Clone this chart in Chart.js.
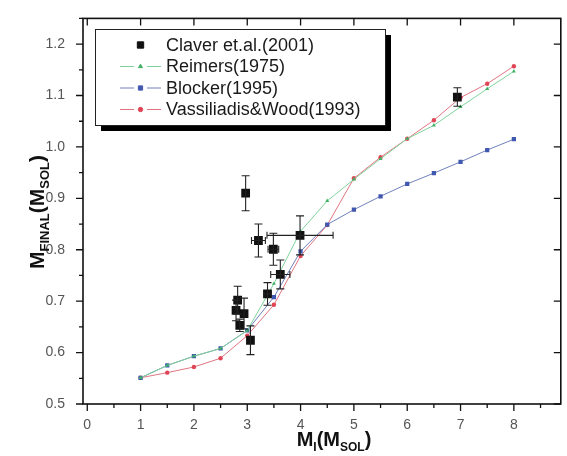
<!DOCTYPE html>
<html>
<head>
<meta charset="utf-8">
<script src="https://cdn.jsdelivr.net/npm/chart.js@4"></script>
<style>
  html, body { margin: 0; padding: 0; background: #fff; }
</style>
</head>
<body>
<canvas id="massChart" width="567" height="456"></canvas>
<script>
// model grids (initial mass, M_sol)
const modelMass = [1, 1.5, 2, 2.5, 3, 3.5, 4, 4.5, 5, 5.5, 6, 6.5, 7, 7.5, 8];
const reimers = [0.551, 0.575, 0.593, 0.608, 0.643, 0.734, 0.836, 0.895, 0.937, 0.977, 1.016, 1.042, 1.078, 1.113, 1.147];
const blocker = [0.551, 0.575, 0.593, 0.608, 0.643, 0.708, 0.797, 0.849, 0.878, 0.904, 0.928, 0.949, 0.971, 0.994, 1.015];
const vassWood = [0.551, 0.561, 0.572, 0.589, 0.633, 0.693, 0.788, 0.848, 0.939, 0.980, 1.016, 1.052, 1.096, 1.123, 1.157];

// Claver et al. (2001) observations
const claverMi = [2.82, 2.79, 2.94, 2.86, 3.06, 2.97, 3.21, 3.49, 3.62, 3.38, 3.99, 6.94];
const claverMf = [0.702, 0.682, 0.676, 0.653, 0.624, 0.910, 0.818, 0.801, 0.752, 0.714, 0.828, 1.097];
const claverMiErr = [0, 0, 0, 0, 0, 0, 0.13, 0.1, 0.18, 0.07, 0.62, 0];
const claverMfErr = [0.027, 0.02, 0.03, 0.012, 0.028, 0.034, 0.032, 0.031, 0.028, 0.022, 0.038, 0.018];

const xTickVals = [0, 1, 2, 3, 4, 5, 6, 7, 8];
const yTickVals = [0.5, 0.6, 0.7, 0.8, 0.9, 1.0, 1.1, 1.2];
const seriesNames = ['Claver et.al.(2001)', 'Reimers(1975)', 'Blocker(1995)', 'Vassiliadis&Wood(1993)'];

const FONT = '"Liberation Sans", Arial, sans-serif';
const GREEN = '#7fd39a', BLUE = '#7080bb', RED = '#e07581';

function pts(xs, ys) {
    return xs.map((x, i) => ({ x: x, y: ys[i] }));
}

// frame + ticks (outward on bottom/left, inward on top/right)
const framePlugin = {
    id: 'frame',
    afterDatasetsDraw(chart) {
        const c = chart.ctx, a = chart.chartArea;
        const xs = chart.scales.x, ys = chart.scales.y;
        c.save();
        c.strokeStyle = '#111';
        c.lineWidth = 1.6;
        c.strokeRect(a.left, a.top, a.right - a.left, a.bottom - a.top);
        c.lineWidth = 1.3;
        c.beginPath();
        for (let v = 0; v <= 9; v += 0.5) {
            const px = xs.getPixelForValue(v);
            if (px < a.left || px > a.right) continue;
            const major = v % 1 === 0;
            c.moveTo(px, a.bottom); c.lineTo(px, a.bottom + (major ? 7 : 4));
            if (major) { c.moveTo(px, a.top); c.lineTo(px, a.top + 7); }
        }
        for (let k = 0; k <= 15; k++) {
            const v = 0.5 + k * 0.05;
            const py = ys.getPixelForValue(v);
            if (py < a.top || py > a.bottom) continue;
            const major = k % 2 === 0;
            c.moveTo(a.left, py); c.lineTo(a.left - (major ? 7 : 4), py);
            if (major) { c.moveTo(a.right, py); c.lineTo(a.right - 7, py); }
        }
        c.stroke();

        // error bars for the observed points
        c.strokeStyle = '#222';
        c.lineWidth = 1.1;
        c.beginPath();
        claverMi.forEach((mi, i) => {
            const px = xs.getPixelForValue(mi), py = ys.getPixelForValue(claverMf[i]);
            if (claverMfErr[i] > 0) {
                const t = ys.getPixelForValue(claverMf[i] + claverMfErr[i]);
                const b = ys.getPixelForValue(claverMf[i] - claverMfErr[i]);
                c.moveTo(px, t); c.lineTo(px, b);
                c.moveTo(px - 4, t); c.lineTo(px + 4, t);
                c.moveTo(px - 4, b); c.lineTo(px + 4, b);
            }
            if (claverMiErr[i] > 0) {
                const l = xs.getPixelForValue(mi - claverMiErr[i]);
                const r = xs.getPixelForValue(mi + claverMiErr[i]);
                c.moveTo(l, py); c.lineTo(r, py);
                c.moveTo(l, py - 3.5); c.lineTo(l, py + 3.5);
                c.moveTo(r, py - 3.5); c.lineTo(r, py + 3.5);
            }
        });
        c.stroke();
        c.restore();
    },
    afterDraw(chart) {
        const c = chart.ctx;
        c.save();
        // legend box with drop shadow
        const bx = 95, by = 29, bw = 290, bh = 96;
        c.fillStyle = '#000';
        c.fillRect(bx + 6, by + 6, bw, bh);
        c.fillStyle = '#fff';
        c.fillRect(bx, by, bw, bh);
        c.strokeStyle = '#222';
        c.lineWidth = 1;
        c.strokeRect(bx + 0.5, by + 0.5, bw, bh);

        const rows = [45, 66.5, 88, 109.5];
        const lineCols = [null, GREEN, BLUE, RED];
        rows.forEach((ry, i) => {
            if (lineCols[i]) {
                c.strokeStyle = lineCols[i];
                c.lineWidth = 1;
                c.beginPath();
                c.moveTo(120, ry); c.lineTo(134, ry);
                c.moveTo(147, ry); c.lineTo(161, ry);
                c.stroke();
            }
            const ds = chart.data.datasets[i];
            c.fillStyle = ds.backgroundColor;
            c.strokeStyle = ds.backgroundColor;
            Chart.helpers.drawPoint(c, {
                pointStyle: ds.pointStyle, radius: i === 0 ? 4.5 : ds.pointRadius, rotation: 0, borderWidth: 1
            }, 140.5, ry);
            c.fillStyle = '#1a1a1a';
            c.font = '18px ' + FONT;
            c.textBaseline = 'middle';
            c.textAlign = 'left';
            c.fillText(seriesNames[i], 166, ry + 1);
        });

        // axis titles with subscripts
        function title(parts) {
            let w = 0;
            parts.forEach(p => { c.font = 'bold ' + p[1] + 'px ' + FONT; p.w = c.measureText(p[0]).width; w += p.w; });
            return w;
        }
        const xt = [['M', 20, 0], ['I', 12, 5], ['(M', 20, 0], ['SOL', 12, 5], [')', 20, 0]];
        let w = title(xt);
        let x0 = 334 - w / 2;
        c.fillStyle = '#111';
        c.textBaseline = 'alphabetic';
        xt.forEach(p => {
            c.font = 'bold ' + p[1] + 'px ' + FONT;
            c.fillText(p[0], x0, 446 + p[2]);
            x0 += p.w;
        });
        const yt = [['M', 21, 0], ['FINAL', 13, 5], ['(M', 21, 0], ['SOL', 13, 5], [')', 21, 0]];
        w = title(yt);
        c.translate(44, 212);
        c.rotate(-Math.PI / 2);
        let y0 = -w / 2;
        yt.forEach(p => {
            c.font = 'bold ' + p[1] + 'px ' + FONT;
            c.fillText(p[0], y0, p[2]);
            y0 += p.w;
        });
        c.restore();
    }
};

new Chart(document.getElementById('massChart'), {
    type: 'scatter',
    data: {
        datasets: [{
            label: seriesNames[0],
            data: pts(claverMi, claverMf),
            pointStyle: 'rect',
            pointRadius: 6.2,
            backgroundColor: '#111',
            borderColor: '#111',
            borderWidth: 0,
            showLine: false
        }, {
            label: seriesNames[1],
            data: pts(modelMass, reimers),
            showLine: true,
            borderColor: GREEN,
            borderWidth: 1,
            pointStyle: 'triangle',
            pointRadius: 2.3,
            pointBorderWidth: 0,
            backgroundColor: '#3fb064'
        }, {
            label: seriesNames[2],
            data: pts(modelMass, blocker),
            showLine: true,
            borderColor: BLUE,
            borderWidth: 1,
            pointStyle: 'rect',
            pointRadius: 3,
            pointBorderWidth: 0,
            backgroundColor: '#4058b0'
        }, {
            label: seriesNames[3],
            data: pts(modelMass, vassWood),
            showLine: true,
            borderColor: RED,
            borderWidth: 1,
            pointStyle: 'circle',
            pointRadius: 2.2,
            pointBorderWidth: 0,
            backgroundColor: '#e04555'
        }]
    },
    options: {
        responsive: false,
        devicePixelRatio: 1,
        animation: false,
        layout: { padding: { left: 0, top: 16, right: 4, bottom: 0 } },
        plugins: { legend: { display: false }, tooltip: { enabled: false } },
        scales: {
            x: {
                type: 'linear',
                min: -0.08,
                max: 8.88,
                grid: { display: false },
                border: { display: false },
                afterBuildTicks: s => { s.ticks = xTickVals.map(v => ({ value: v })); },
                afterFit: s => { s.height = 52; },
                ticks: { color: '#555', font: { size: 14, family: FONT }, padding: 5, maxRotation: 0 }
            },
            y: {
                type: 'linear',
                min: 0.5,
                max: 1.25,
                grid: { display: false },
                border: { display: false },
                afterBuildTicks: s => { s.ticks = yTickVals.map(v => ({ value: v })); },
                afterFit: s => { s.width = 83; },
                ticks: {
                    color: '#555', font: { size: 14, family: FONT }, padding: 10,
                    callback: v => v.toFixed(1)
                }
            }
        }
    },
    plugins: [framePlugin]
});
</script>
</body>
</html>
